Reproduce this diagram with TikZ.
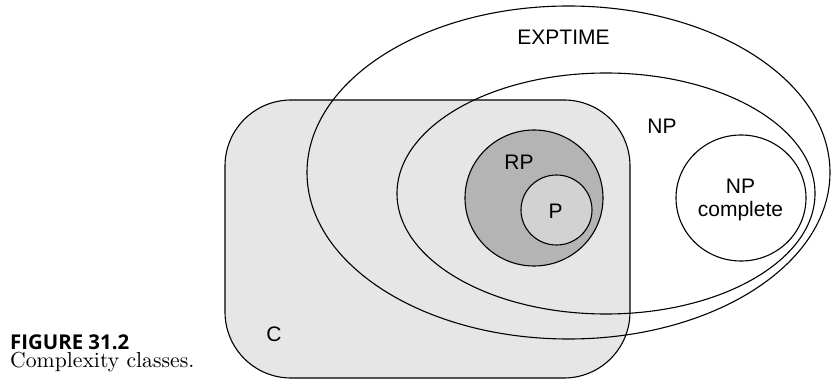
\documentclass[tikz,border=0pt]{standalone}
\usepackage{fontspec}
\newfontfamily\labfont{Liberation Sans}
\newfontfamily\capfont{Open Sans}
\definecolor{boxgray}{HTML}{E6E6E6}
\definecolor{rpgray}{HTML}{B4B4B4}
\definecolor{pgray}{HTML}{D2D2D2}
\begin{document}
\begin{tikzpicture}[x=1pt,y=-1pt,
  setline/.style={draw=black,line width=1.1pt},
  lab/.style={font=\labfont\fontsize{21}{23}\selectfont, inner sep=0pt, align=center}]
\useasboundingbox (0,0) rectangle (831,382);
% C box
\draw[setline, fill=boxgray, rounded corners=66pt] (225,100) rectangle (630,378);
% EXPTIME
\draw[setline] (568.5,172.5) ellipse [x radius=261.5pt, y radius=166.5pt];
% NP
\draw[setline] (606,193.5) ellipse [x radius=209pt, y radius=120.5pt];
% RP
\draw[setline, fill=rpgray] (534,198) ellipse [x radius=69pt, y radius=68pt];
% P
\draw[setline, fill=pgray] (556.5,210) ellipse [x radius=35.5pt, y radius=35pt];
% NP complete
\draw[setline, fill=white] (741,198) ellipse [x radius=65pt, y radius=63pt];
% labels
\node[lab] (exptime) at (563.5,37) {EXPTIME};
\node[lab] (np) at (662,126) {NP};
\node[lab] (rp) at (519,162) {RP};
\node[lab] (p) at (555.5,211) {P};
\node[lab] (npc) at (740.5,200) {NP\\complete};
\node[lab] (c) at (274,334) {C};
% caption
\node[anchor=base west, inner sep=0pt] (fig) at (10,349) {\resizebox{119pt}{!}{\capfont\bfseries FIGURE 31.2}};
\node[anchor=base west, inner sep=0pt] (cap) at (10,367) {\scalebox{2.17}{\fontsize{10}{12}\selectfont Complexity classes.}};
\end{tikzpicture}
\end{document}
